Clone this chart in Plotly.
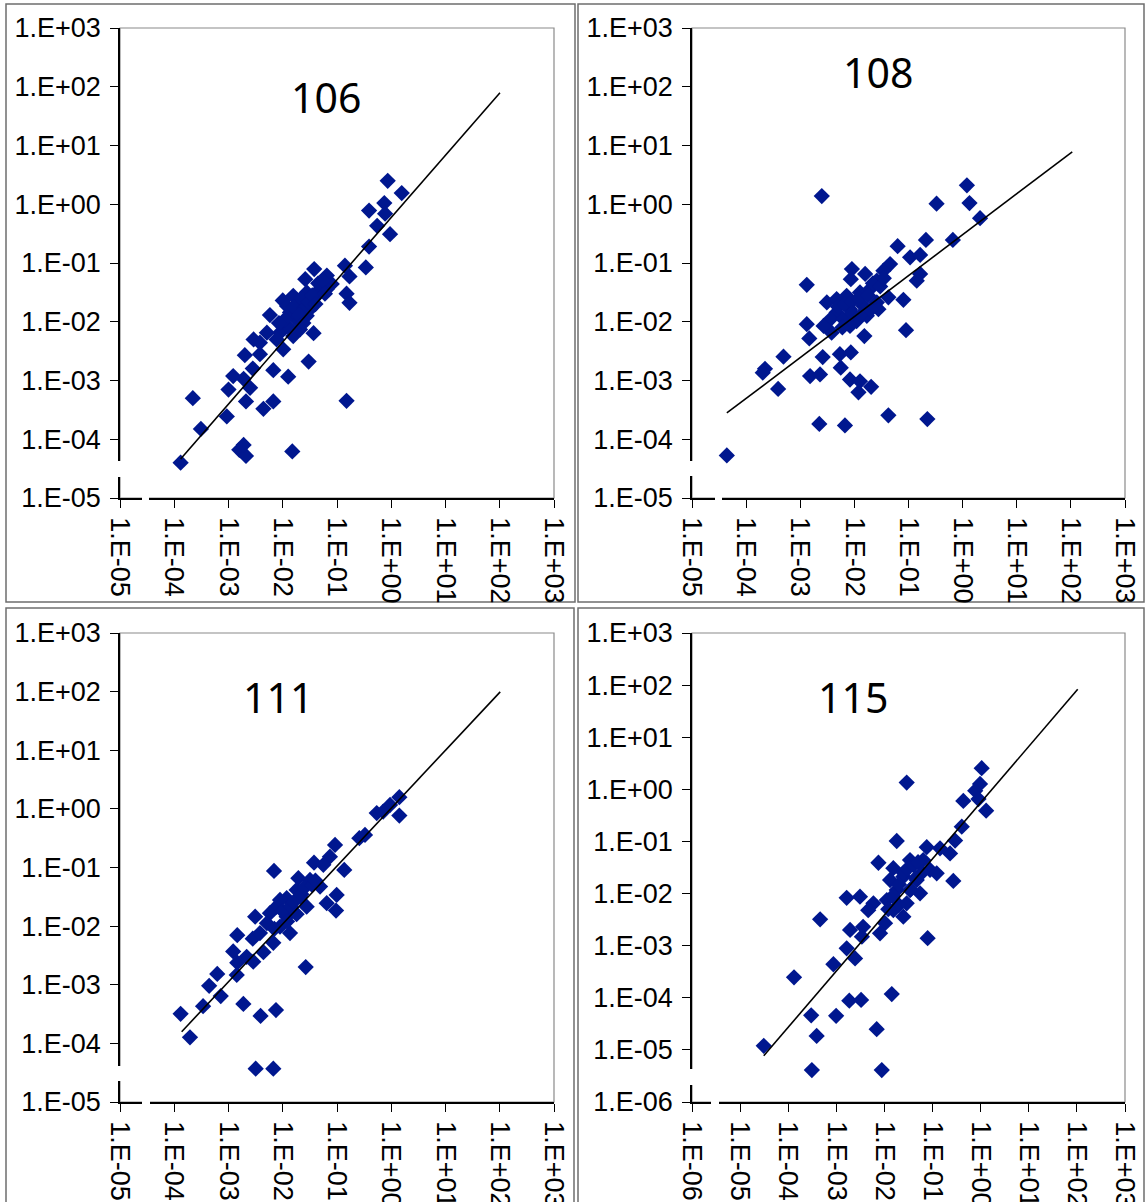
import plotly.graph_objects as go

W, H = 1146, 1202

# ---------------- data ----------------
panel_titles = ["106", "108", "111", "115"]

x106 = [0.86, 1.56, 0.745, 0.39, 0.77, 0.55, 0.95, 0.39, 0.14, 0.34, 0.17, 0.038, 0.026, 0.065, 0.08,
        0.15, 0.17, 0.01, 0.0058, 0.037, 0.030, 0.0029, 0.002, 0.0038, 0.0028, 0.0067, 0.0126, 0.001,
        0.0019, 0.0025, 0.0021, 0.00022, 0.0067, 0.0044, 0.15, 0.00093, 0.00031, 0.00158, 0.0021,
        0.0019, 0.015, 0.000131, 0.0156, 0.0208, 0.0277, 0.0423, 0.0487, 0.0136, 0.018, 0.0277,
        0.0118, 0.0089, 0.0156, 0.0208, 0.0051, 0.0038, 0.0102, 0.0077, 0.0318, 0.065, 0.00122,
        0.012, 0.016, 0.022, 0.025, 0.03, 0.035, 0.02, 0.024, 0.014, 0.011, 0.045, 0.055, 0.06,
        0.0085, 0.04]
y106 = [2.5, 1.55, 1.05, 0.78, 0.69, 0.43, 0.31, 0.19, 0.09, 0.084, 0.059, 0.079, 0.053, 0.061, 0.044,
        0.030, 0.021, 0.023, 0.013, 0.0064, 0.0021, 0.005, 0.0027, 0.0028, 0.0016, 0.0015, 0.00116,
        0.0007, 0.00107, 0.00075, 0.00044, 0.0005, 0.00044, 0.00033, 0.00045, 0.000245, 0.00015,
        6.6e-5, 5.2e-5, 8.0e-5, 6.2e-5, 4.0e-5, 0.0276, 0.0213, 0.0316, 0.0276, 0.036, 0.0144, 0.011,
        0.0126, 0.0085, 0.0065, 0.0057, 0.0074, 0.0065, 0.0044, 0.0034, 0.005, 0.0164, 0.036, 0.00119,
        0.0185, 0.018, 0.025, 0.017, 0.022, 0.028, 0.013, 0.0095, 0.0075, 0.011, 0.045, 0.05, 0.03,
        0.0095, 0.02]
fit106_x = [1.31e-4, 101]
fit106_y = [4.6e-5, 79]

x108 = [0.0025, 1.2, 0.33, 1.34, 2.1, 0.66, 0.21, 0.063, 0.107, 0.164, 0.0457, 0.0344, 0.009, 0.0086,
        0.0158, 0.164, 0.142, 0.00132, 0.026, 0.0805, 0.0425, 0.0031, 0.0047, 0.0072, 0.0127, 0.0195,
        0.026, 0.0147, 0.0083, 0.0047, 0.0036, 0.0063, 0.011, 0.017, 0.0278, 0.00132, 0.0038, 0.00147,
        0.0153, 0.09, 0.00049, 0.0026, 0.0054, 0.0086, 0.0056, 0.000223, 0.000203, 0.00152, 0.00232,
        0.00039, 0.0083, 0.0127, 0.0119, 0.0204, 0.0425, 0.223, 0.00225, 0.0067, 4.4e-5, 0.0027, 0.0083,
        0.005, 0.0065, 0.009, 0.012, 0.018, 0.022, 0.03, 0.035, 0.009, 0.013, 0.006, 0.02]
y108 = [1.38, 2.1, 1.02, 1.05, 0.58, 0.247, 0.247, 0.193, 0.125, 0.137, 0.096, 0.074, 0.079, 0.053,
        0.065, 0.065, 0.050, 0.0426, 0.050, 0.0236, 0.026, 0.0213, 0.0243, 0.0276, 0.0315, 0.036,
        0.0213, 0.0186, 0.0164, 0.0144, 0.011, 0.011, 0.0103, 0.0126, 0.0164, 0.0091, 0.0065, 0.0052,
        0.0057, 0.0072, 0.00254, 0.0025, 0.0028, 0.003, 0.00165, 0.00158, 0.00136, 0.00119, 0.00127,
        0.00072, 0.00104, 0.00097, 0.00063, 0.00078, 0.000255, 0.000221, 0.000182, 0.000172, 5.3e-5,
        0.0085, 0.0085,
        0.018, 0.02, 0.022, 0.025, 0.028, 0.045, 0.04, 0.055, 0.014, 0.013, 0.008, 0.016]
fit108_x = [4.4e-5, 106]
fit108_y = [2.8e-4, 7.8]

x111 = [1.41, 0.95, 0.54, 0.71, 1.41, 0.258, 0.328, 0.092, 0.074, 0.0377, 0.136, 0.056, 0.0069, 0.0194,
        0.0318, 0.0487, 0.0986, 0.0646, 0.096, 0.0118, 0.0208, 0.0276, 0.0077, 0.0058, 0.0118, 0.0031,
        0.0051, 0.0089, 0.0136, 0.0067, 0.00145, 0.0028, 0.0044, 0.00122, 0.00216, 0.00286, 0.00145,
        0.0265, 0.00062, 0.00142, 0.00044, 0.00072, 0.00034, 0.000131, 0.00188, 0.0075, 0.0039,
        0.000195, 0.00317, 0.0067, 0.0089, 0.018, 0.0038,
        0.01, 0.014, 0.016, 0.022, 0.025, 0.035, 0.04, 0.012, 0.018, 0.007]
y111 = [1.58, 1.17, 0.85, 0.9, 0.77, 0.316, 0.36, 0.243, 0.153, 0.121, 0.091, 0.111, 0.0875, 0.0656,
        0.0614, 0.0472, 0.034, 0.0246, 0.0184, 0.030, 0.0318, 0.0215, 0.0215, 0.0166, 0.0145, 0.0145,
        0.0112, 0.0098, 0.0076, 0.0052, 0.007, 0.0061, 0.0036, 0.0037, 0.003, 0.00248, 0.00238, 0.002,
        0.00153, 0.00147, 0.00096, 0.00064, 0.00043, 0.00032, 0.00047, 0.00037, 0.000294, 0.000127,
        3.7e-5, 3.7e-5, 0.028, 0.0415, 0.0076,
        0.018, 0.022, 0.026, 0.035, 0.045, 0.05, 0.06, 0.012, 0.016, 0.009]
fit111_x = [1.37e-4, 102]
fit111_y = [1.58e-4, 99]

x115 = [1.05, 0.029, 0.97, 0.77, 0.436, 0.9, 1.3, 0.405, 0.294, 0.018, 0.231, 0.0757, 0.143, 0.0075,
        0.034, 0.0153, 0.0887, 0.122, 0.27, 0.0247, 0.0469, 0.0131, 0.018, 0.034, 0.055, 0.00164, 0.0031,
        0.0059, 0.0112, 0.0046, 0.0153, 0.0247, 0.0103, 0.00046, 0.00193, 0.0036, 0.0081, 0.0034, 0.079,
        0.00164, 0.00245, 0.00087, 0.000132, 0.0142, 0.00186, 0.00327, 0.0003, 0.00099, 0.00039, 0.0069,
        3.1e-5, 0.00031, 0.0088, 0.029, 0.064,
        0.02, 0.025, 0.03, 0.04, 0.05, 0.015, 0.02, 0.06, 0.012, 0.035, 0.045]
y115 = [2.54, 1.35, 1.27, 0.94, 0.6, 0.65, 0.39, 0.192, 0.104, 0.102, 0.059, 0.0775, 0.074, 0.039,
        0.044, 0.0306, 0.0284, 0.0245, 0.0175, 0.0211, 0.0182, 0.0182, 0.0117, 0.0117, 0.0101, 0.0083,
        0.0087, 0.0065, 0.0075, 0.0048, 0.0048, 0.0036, 0.0027, 0.0032, 0.002, 0.0023, 0.00173, 0.00149,
        0.00139, 0.00089, 0.00057, 0.00044, 0.000247, 0.000118, 8.8e-5, 9.1e-5, 4.6e-5, 4.5e-5, 1.85e-5,
        2.5e-5, 1.2e-5, 4.1e-6, 4.1e-6, 0.0065, 0.044,
        0.015, 0.025, 0.03, 0.035, 0.04, 0.009, 0.006, 0.025, 0.005, 0.012, 0.02]
fit115_x = [3.1e-5, 104]
fit115_y = [7.7e-6, 83]

tick_vals_5 = [1e-05, 1e-04, 1e-03, 1e-02, 1e-01, 1e+00, 1e+01, 1e+02, 1e+03]
tick_text_5 = ["1.E-05", "1.E-04", "1.E-03", "1.E-02", "1.E-01", "1.E+00", "1.E+01", "1.E+02", "1.E+03"]
tick_vals_6 = [1e-06] + tick_vals_5
tick_text_6 = ["1.E-06"] + tick_text_5

# ---------------- layout helpers ----------------
def px_x(v):
    return v / W

def px_y(v):
    return 1 - v / H

# plot areas in pixels: left, top, right, bottom
areas = [(120, 28, 554, 498), (692, 28, 1125, 498), (120, 633, 554, 1102), (692, 633, 1125, 1102)]
# outer panel frames
frames = [(6, 4, 575, 602), (578, 4, 1144, 602), (6, 608, 574, 1215), (578, 608, 1144, 1215)]
# axis-break white patches (left, top, right, bottom) in pixels
gaps = [(114, 461, 126, 477), (142, 493, 149, 503),
        (686, 461, 698, 476), (715, 493, 722, 503),
        (114, 1066, 126, 1081), (142, 1097, 150, 1107),
        (686, 1069, 698, 1085), (711, 1097, 719, 1107)]
title_pos = [(326, 97), (878, 72), (278, 697), (853, 697)]

series = [(x106, y106, fit106_x, fit106_y, tick_vals_5, tick_text_5, tick_vals_5, tick_text_5),
          (x108, y108, fit108_x, fit108_y, tick_vals_5, tick_text_5, tick_vals_5, tick_text_5),
          (x111, y111, fit111_x, fit111_y, tick_vals_5, tick_text_5, tick_vals_5, tick_text_5),
          (x115, y115, fit115_x, fit115_y, tick_vals_6, tick_text_6, tick_vals_6, tick_text_6)]

marker_color = "#00178F"
tick_font = dict(family="Liberation Sans, Arial", size=27, color="black")

fig = go.Figure()
layout = dict(width=W, height=H, autosize=False,
              margin=dict(l=0, r=0, t=0, b=0, pad=0, autoexpand=False), showlegend=False,
              paper_bgcolor="white", plot_bgcolor="white")
shapes = []
annotations = []

for i, (xs, ys, fx, fy, xtv, xtt, ytv, ytt) in enumerate(series):
    n = "" if i == 0 else str(i + 1)
    xa, ya = "x" + n, "y" + n
    l, t, r, b = areas[i]
    fig.add_trace(go.Scatter(x=xs, y=ys, mode="markers", xaxis=xa, yaxis=ya,
                             marker=dict(symbol="diamond", size=12.5, color=marker_color,
                                         line=dict(width=0)),
                             cliponaxis=False))
    fig.add_trace(go.Scatter(x=fx, y=fy, mode="lines", xaxis=xa, yaxis=ya,
                             line=dict(color="black", width=1.6)))
    lo = -6 if i == 3 else -5
    common = dict(type="log", showgrid=False, zeroline=False, showline=True, linecolor="black",
                  linewidth=1.5, ticks="outside", ticklen=8, tickwidth=1.3, tickcolor="black",
                  tickfont=tick_font, ticklabelstandoff=4, automargin=False)
    layout["xaxis" + n] = dict(common, domain=[px_x(l), px_x(r)], range=[lo, 3], anchor=ya,
                               tickvals=xtv, ticktext=xtt, tickangle=90)
    layout["yaxis" + n] = dict(common, domain=[px_y(b), px_y(t)], range=[lo, 3], anchor=xa,
                               tickvals=ytv, ticktext=ytt)
    # gray plot-area border (top/right)
    shapes.append(dict(type="rect", xref="paper", yref="paper", x0=px_x(l), x1=px_x(r),
                       y0=px_y(b), y1=px_y(t), line=dict(color="#8a8a8a", width=1.2),
                       fillcolor="rgba(0,0,0,0)", layer="below"))
    # outer frame
    fl, ft, fr, fb = frames[i]
    shapes.append(dict(type="rect", xref="paper", yref="paper", x0=px_x(fl), x1=px_x(fr),
                       y0=px_y(fb), y1=px_y(ft), line=dict(color="#6e6e6e", width=1.5),
                       fillcolor="rgba(0,0,0,0)", layer="below"))
    tx, ty = title_pos[i]
    annotations.append(dict(text=panel_titles[i], xref="paper", yref="paper", x=px_x(tx), y=px_y(ty),
                            xanchor="center", yanchor="middle", showarrow=False,
                            font=dict(family="Noto Sans", size=41, color="black")))

for (gl, gt, gr, gb) in gaps:
    shapes.append(dict(type="rect", xref="paper", yref="paper", x0=px_x(gl), x1=px_x(gr),
                       y0=px_y(gb), y1=px_y(gt), line=dict(width=0), fillcolor="white", layer="above"))

layout["shapes"] = shapes
layout["annotations"] = annotations
fig.update_layout(**layout)
fig.write_html("out.html", config={"responsive": False})
